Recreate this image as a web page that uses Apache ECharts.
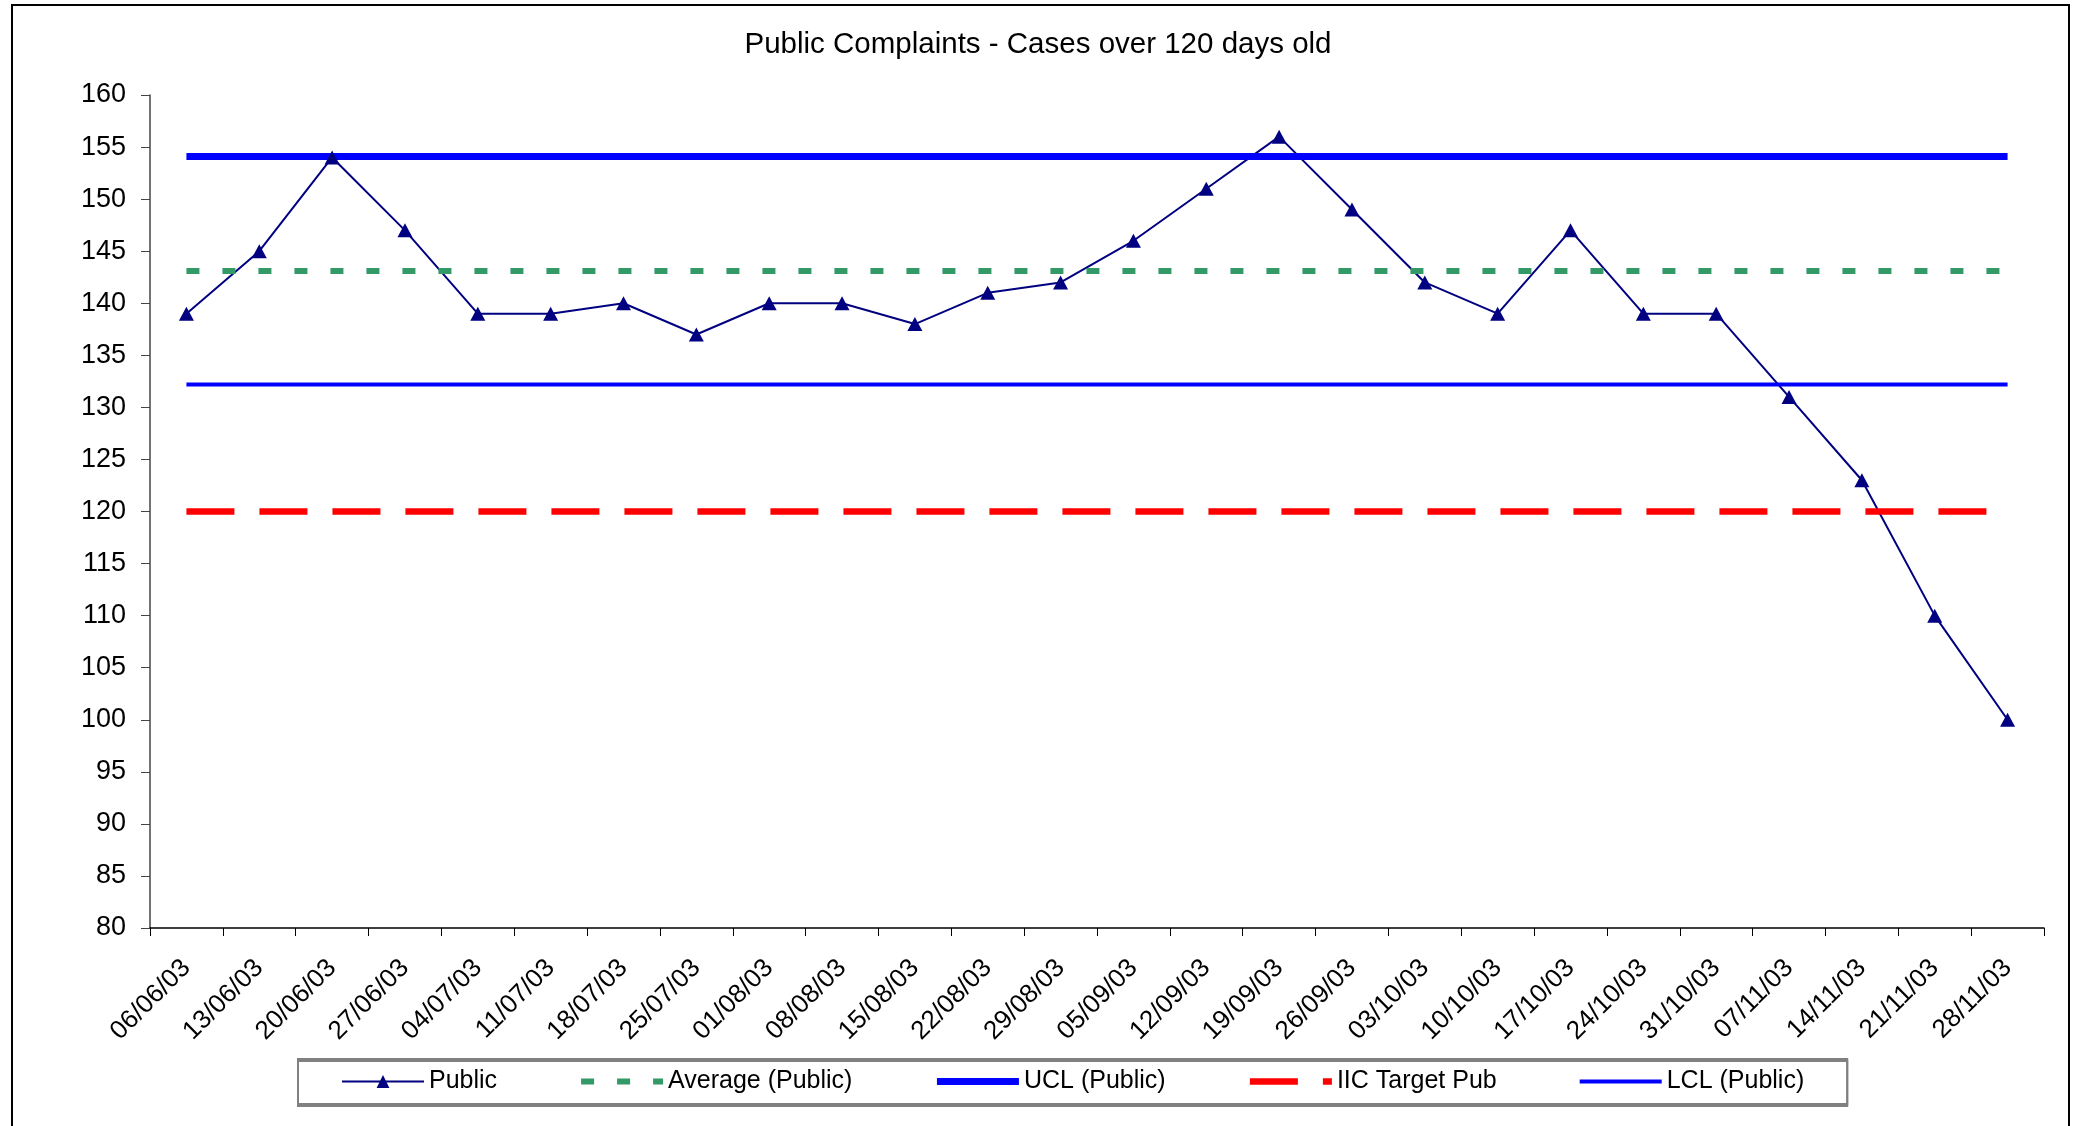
<!DOCTYPE html>
<html>
<head>
<meta charset="utf-8">
<title>Public Complaints - Cases over 120 days old</title>
<script src="https://cdn.jsdelivr.net/npm/echarts/dist/echarts.min.js"></script>
<style>
  html, body { margin: 0; padding: 0; background: #fff; }
  #chart { width: 2076px; height: 1126px; }
</style>
</head>
<body>
<div id="chart"></div>
<script>
// weekly dates
var weeks = ['06/06/03', '13/06/03', '20/06/03', '27/06/03', '04/07/03', '11/07/03', '18/07/03',
	'25/07/03', '01/08/03', '08/08/03', '15/08/03', '22/08/03', '29/08/03', '05/09/03', '12/09/03',
	'19/09/03', '26/09/03', '03/10/03', '10/10/03', '17/10/03', '24/10/03', '31/10/03', '07/11/03',
	'14/11/03', '21/11/03', '28/11/03'];

// cases over 120 days old
var publicCases = [139, 145, 154, 147, 139, 139, 140, 137, 140, 140, 138, 141, 142, 146, 151,
	156, 149, 142, 139, 147, 139, 139, 131, 123, 110, 100];

// control lines (flat)
var averagePublic = [143.1, 143.1, 143.1, 143.1, 143.1, 143.1, 143.1, 143.1, 143.1, 143.1, 143.1, 143.1, 143.1,
	143.1, 143.1, 143.1, 143.1, 143.1, 143.1, 143.1, 143.1, 143.1, 143.1, 143.1, 143.1, 143.1];
var uclPublic = [154.1, 154.1, 154.1, 154.1, 154.1, 154.1, 154.1, 154.1, 154.1, 154.1, 154.1, 154.1, 154.1,
	154.1, 154.1, 154.1, 154.1, 154.1, 154.1, 154.1, 154.1, 154.1, 154.1, 154.1, 154.1, 154.1];
var targetPub = [120, 120, 120, 120, 120, 120, 120, 120, 120, 120, 120, 120, 120,
	120, 120, 120, 120, 120, 120, 120, 120, 120, 120, 120, 120, 120];
var lclPublic = [132.2, 132.2, 132.2, 132.2, 132.2, 132.2, 132.2, 132.2, 132.2, 132.2, 132.2, 132.2, 132.2,
	132.2, 132.2, 132.2, 132.2, 132.2, 132.2, 132.2, 132.2, 132.2, 132.2, 132.2, 132.2, 132.2];

var seriesNames = ['Public', 'Average (Public)', 'UCL (Public)', 'IIC Target Pub', 'LCL (Public)'];

var font = '"Liberation Sans", Arial, sans-serif';

var chart = echarts.init(document.getElementById('chart'));

function flatLine(name, data, color, width, type) {
	return {
		name: name,
		type: 'line',
		data: data,
		symbol: 'none',
		silent: true,
		lineStyle: { color: color, width: width, type: type, cap: 'butt' },
		itemStyle: { color: color }
	};
}

// legend entries: flat lines show only their line, no marker
var legendData = seriesNames.map(function(name, i) {
	if (i == 0) return { name: name };
	return { name: name, itemStyle: { opacity: 0 } };
});

chart.setOption({
	animation: false,
	backgroundColor: '#fff',
	textStyle: { fontFamily: font, color: '#000' },
	title: {
		text: 'Public Complaints - Cases over 120 days old',
		left: 'center',
		top: 25,
		textStyle: { fontFamily: font, fontSize: 29.5, fontWeight: 'normal', color: '#000' }
	},
	graphic: [{
		// outer chart frame
		type: 'rect',
		shape: { x: 12, y: 5, width: 2057, height: 1140 },
		style: { fill: 'none', stroke: '#000', lineWidth: 2 },
		silent: true
	}],
	grid: { left: 150, right: 32, top: 95, bottom: 198 },
	legend: {
		data: legendData,
		left: 298,
		top: 1059,
		padding: [10, 43, 10, 43],
		itemGap: 81,
		itemWidth: 82,
		itemHeight: 16,
		borderColor: '#808080',
		borderWidth: 2,
		backgroundColor: '#fff',
		shadowColor: '#808080',
		shadowOffsetY: 2,
		shadowOffsetX: 0,
		shadowBlur: 0,
		lineStyle: { width: 'inherit' },
		textStyle: { fontFamily: font, fontSize: 25, color: '#000' }
	},
	xAxis: {
		type: 'category',
		data: weeks,
		boundaryGap: true,
		axisLine: { lineStyle: { color: '#000', width: 1.5 } },
		axisTick: { show: true, length: 8, lineStyle: { color: '#000' } },
		axisLabel: { rotate: 45, margin: 36, fontSize: 26, color: '#000', fontFamily: font, interval: 0 },
		splitLine: { show: false }
	},
	yAxis: {
		type: 'value',
		min: 80,
		max: 160,
		interval: 5,
		axisLine: { show: true, lineStyle: { color: '#444', width: 1.5 } },
		axisTick: { show: true, length: 9, lineStyle: { color: '#444' } },
		axisLabel: { margin: 24, fontSize: 27, color: '#000', fontFamily: font },
		splitLine: { show: false }
	},
	series: [
		{
			name: 'Public',
			type: 'line',
			data: publicCases,
			symbol: 'triangle',
			symbolSize: [15, 14],
			showAllSymbol: true,
			lineStyle: { color: '#000080', width: 2 },
			itemStyle: { color: '#000080', borderWidth: 0 }
		},
		flatLine('Average (Public)', averagePublic, '#339966', 6, [13, 23]),
		flatLine('UCL (Public)', uclPublic, '#0000ff', 7, 'solid'),
		flatLine('IIC Target Pub', targetPub, '#ff0000', 6.5, [48, 25]),
		flatLine('LCL (Public)', lclPublic, '#0000ff', 4, 'solid')
	]
});
</script>
</body>
</html>
